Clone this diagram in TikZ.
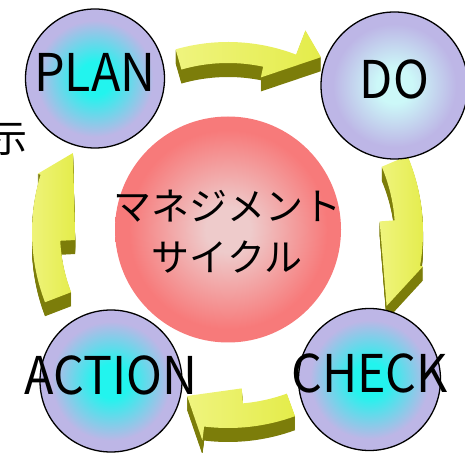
\documentclass[tikz,border=0pt]{standalone}
\usepackage{fontspec}
\setmainfont{Noto Sans CJK JP}
\newfontfamily\ballfont[FakeStretch=0.93]{Noto Sans CJK JP}
\usepackage{tikz}
\usetikzlibrary{positioning}
\definecolor{ballcyan}{HTML}{22F4EE}
\definecolor{ballpale}{HTML}{CCF8F8}
\definecolor{balllav}{HTML}{BDB6E6}
\definecolor{redmid}{HTML}{EECBCB}
\definecolor{redrim}{HTML}{F77A7A}
\definecolor{arrowlite}{HTML}{EFF47E}
\definecolor{arrowyel}{HTML}{E4EC4A}
\definecolor{arrowside}{HTML}{7C7D0A}
\pgfdeclareradialshading{cyanball}{\pgfpoint{0bp}{0bp}}{color(0bp)=(ballcyan); color(6bp)=(ballcyan); color(21bp)=(balllav); color(50bp)=(balllav)}
\pgfdeclareradialshading{paleball}{\pgfpoint{0bp}{0bp}}{color(0bp)=(ballpale); color(6bp)=(ballpale); color(21bp)=(balllav); color(50bp)=(balllav)}
\pgfdeclareradialshading{redball}{\pgfpoint{0bp}{0bp}}{color(0bp)=(redmid); color(5bp)=(redmid); color(22bp)=(redrim); color(50bp)=(redrim)}
\newcommand{\cycarrow}[8]{%
    \foreach \d in {1,...,14}
    \fill[arrowside,yshift=-\d pt] (#1:#5) -- (#1:#6) arc[start angle=#1,end angle=#3,radius=#6] -- (#3:#8) -- (#4) -- (#2:#7) -- (#2:#5) arc[start angle=#2,end angle=#1,radius=#5] -- cycle;
    \shade[arrowtop] (#1:#5) -- (#1:#6) arc[start angle=#1,end angle=#3,radius=#6] -- (#3:#8) -- (#4) -- (#2:#7) -- (#2:#5) arc[start angle=#2,end angle=#1,radius=#5] -- cycle;
}
\tikzset{
    arrowtop/.style={left color=arrowlite,right color=arrowyel},
    ball/.style={circle,draw=black,line width=1.3pt,inner sep=0pt,shade,shading=cyanball,
        text depth=12pt,font=\ballfont\fontsize{52}{52}\selectfont},
    kana/.style={font=\fontsize{38}{51}\selectfont}
}

\begin{document}
\begin{tikzpicture}[x=1pt,y=1pt]
    \useasboundingbox (0,0) rectangle (465,452);
    \coordinate (cyc) at (228,220);
    \begin{scope}[shift={(cyc)}]
    \cycarrow{106}{78}{69}{62:198}{169}{190}{158}{216}
    \cycarrow{23}{4}{-10}{-25:175}{167}{195}{152}{198}
    \cycarrow{290}{275}{263}{256:169}{172}{196}{157}{210}
    \cycarrow{201}{183}{163}{153:174}{168}{196}{153}{199}
    \end{scope}
    \node[ball,minimum size=139] (plan) at (95,373.5) {\makebox[0pt]{PLAN}};
    \node[ball,minimum size=147,shading=paleball] (do) at (394.5,366.5) {\makebox[0pt]{DO}};
    \node[ball,minimum size=142] (check) at (369.5,72.5) {\makebox[0pt]{CHECK}};
    \node[ball,minimum size=142] (action) at (111,71) {\makebox[0pt]{ACTION}};
    \node[circle,inner sep=0pt,minimum size=226,shade,shading=redball] (mgmt) at (228,222.5) {};
    \node[kana,align=center] (mgmtlabel) at (227,220.5) {マネジメント\\サイクル};
    \node[kana] (shi) at (9,313) {示};
\end{tikzpicture}
\end{document}
